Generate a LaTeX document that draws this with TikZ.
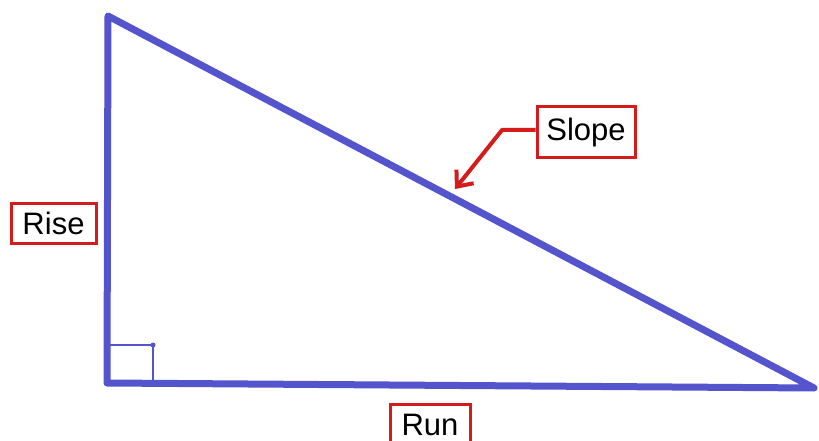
\documentclass[tikz,border=0pt]{standalone}
\usepackage{fontspec}
\setmainfont{Liberation Sans}
\usetikzlibrary{arrows.meta}
\definecolor{penblue}{RGB}{84,84,204}
\definecolor{boxred}{RGB}{212,28,28}
\begin{document}
\begin{tikzpicture}[x=1pt,y=-1pt,
  side/.style={draw=penblue,line width=7pt,line join=round,line cap=round},
  thin/.style={draw=penblue,line width=2pt},
  labelbox/.style={draw=boxred,line width=3pt,fill=white,inner sep=0pt,
    font=\fontsize{31}{34}\selectfont,text=black},
  pointer/.style={draw=boxred,line width=4pt,line join=round,
    -{Straight Barb[length=13pt,width=22pt]}}]
\useasboundingbox[fill=white] (0,0) rectangle (819,441);
\coordinate (A) at (108,16);
\coordinate (B) at (107,383);
\coordinate (C) at (814,388);
\coordinate (m1) at (107,345);
\coordinate (m2) at (153,345);
\coordinate (m3) at (153,383);
\coordinate (bend) at (502,130);
\coordinate (tip) at (455,189);
\draw[side] (A) -- (B) -- (C) -- cycle;
\draw[thin] (m1) -- (m2) -- (m3);
\fill[penblue] (m2) circle (2.5pt);
\node[labelbox,minimum width=85pt,minimum height=40pt] (rise) at (53.5,223) {Rise};
\node[labelbox,minimum width=98pt,minimum height=50pt] (slope) at (586,132) {Slope};
\node[labelbox,minimum width=80pt,minimum height=40pt,anchor=north] (run) at (430,403) {Run};
\draw[pointer] (slope.west |- bend) -- (bend) -- (tip);
\end{tikzpicture}
\end{document}
